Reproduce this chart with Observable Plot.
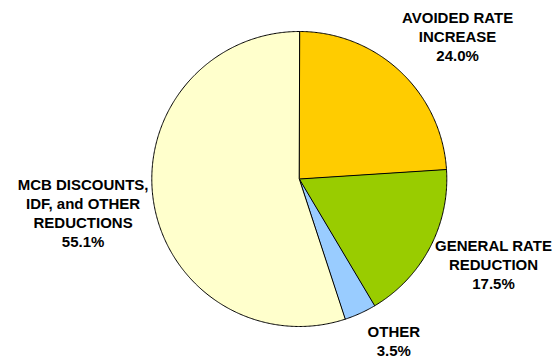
<!DOCTYPE html>
<html>
<head>
<meta charset="utf-8">
<script src="https://cdn.jsdelivr.net/npm/d3@7"></script>
<script src="https://cdn.jsdelivr.net/npm/@observablehq/plot@0.6"></script>
<style>
  html, body { margin: 0; padding: 0; background: #ffffff; overflow: hidden; }
  #chart svg { display: block; }
</style>
</head>
<body>
<div id="chart"></div>
<script>
// ---- data ----
const categories = ["AVOIDED RATE INCREASE", "GENERAL RATE REDUCTION", "OTHER", "MCB DISCOUNTS, IDF, and OTHER REDUCTIONS"];
const shares = [24.0, 17.5, 3.5, 55.1];
const labelLines = [
  ["AVOIDED RATE", "INCREASE"],
  ["GENERAL RATE", "REDUCTION"],
  ["OTHER"],
  ["MCB DISCOUNTS,", "IDF, and OTHER", "REDUCTIONS"]
];

// ---- styles ----
const palette = ["#FFCC00", "#99CC00", "#99CCFF", "#FFFFCC"];
const labelRadius = 1.45;
const labelNudge = [[12, 13], [5, -15], [6, -33], [-5, 0]];

// ---- geometry from data ----
const arcs = d3.pie().sort(null).value(d => d)(shares);
const slicePoints = [];
arcs.forEach((a, i) => {
  const cat = categories[i];
  slicePoints.push({cat, x: 0, y: 0});
  const steps = Math.max(2, Math.ceil((a.endAngle - a.startAngle) / (Math.PI / 360)));
  for (let k = 0; k <= steps; k++) {
    const t = a.startAngle + (a.endAngle - a.startAngle) * k / steps;
    slicePoints.push({cat, x: Math.sin(t), y: Math.cos(t)});
  }
});

const labels = arcs.map((a, i) => {
  const m = (a.startAngle + a.endAngle) / 2;
  return {
    cat: categories[i],
    x: labelRadius * Math.sin(m),
    y: labelRadius * Math.cos(m),
    text: [...labelLines[i], shares[i].toFixed(1) + "%"].join("\n"),
    dx: labelNudge[i][0],
    dy: labelNudge[i][1]
  };
});

const cx = 298.8, cy = 178.5, r = 147.5;

const chart = Plot.plot({
  width: 554,
  height: 358,
  margin: 0,
  style: {background: "#ffffff", fontFamily: "'Liberation Sans', Arial, sans-serif"},
  x: {domain: [-1, 1], range: [cx - r, cx + r], axis: null},
  y: {domain: [-1, 1], range: [cy + r, cy - r], axis: null},
  color: {domain: categories, range: palette},
  marks: [
    Plot.line(slicePoints, {
      x: "x", y: "y", z: "cat", fill: "cat",
      stroke: "#000000", strokeWidth: 1, curve: "linear-closed", strokeLinejoin: "round"
    }),
    ...labels.map(l => Plot.text([l], {
      x: "x", y: "y", text: "text",
      dx: l.dx, dy: l.dy,
      textAnchor: "middle", lineAnchor: "middle", lineHeight: 1.27,
      fontSize: 15, fontWeight: "bold", fill: "#000000"
    }))
  ]
});
document.getElementById("chart").appendChild(chart);
</script>
</body>
</html>
